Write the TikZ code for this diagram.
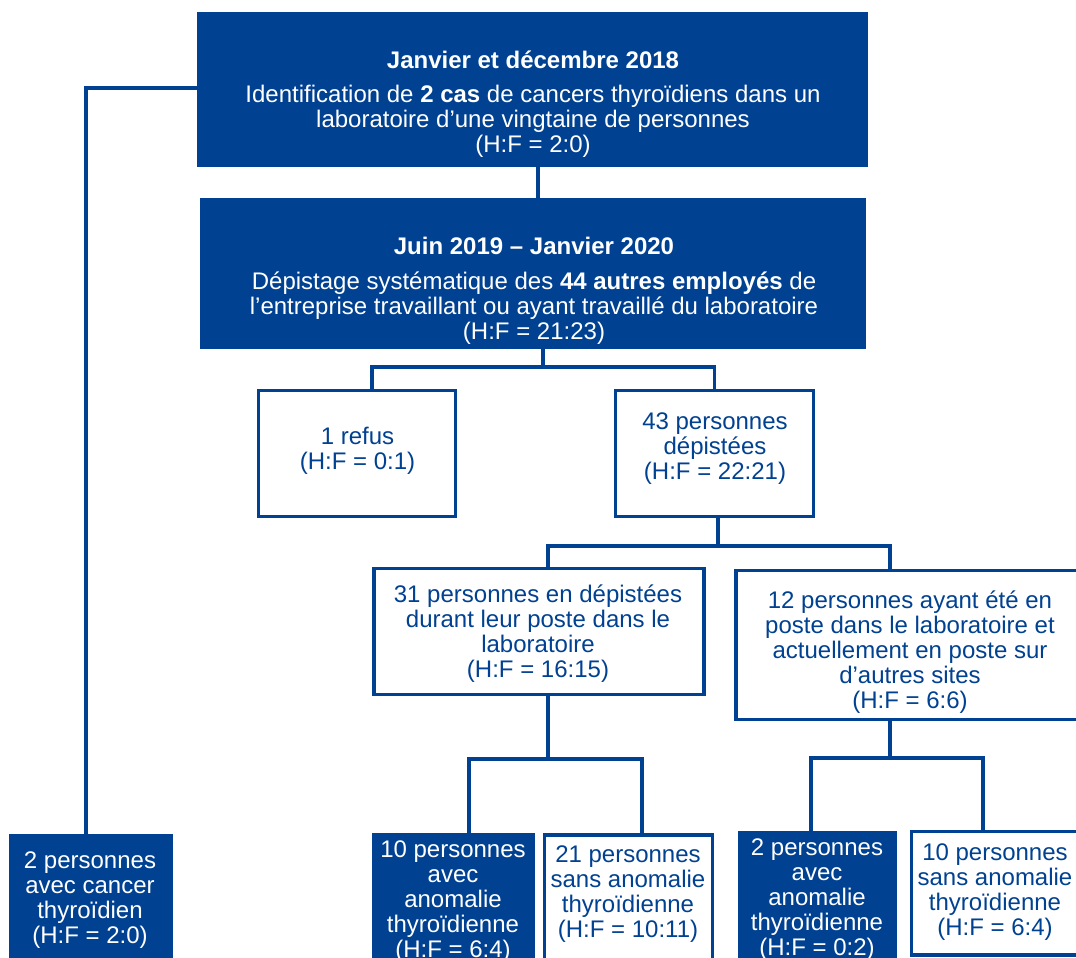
\documentclass[tikz,border=0pt]{standalone}
\usepackage{fontspec}
\setmainfont{Liberation Sans}
\definecolor{sbleu}{RGB}{0,65,145}
\begin{document}
\begin{tikzpicture}[x=1pt,y=-1pt,
  filledbox/.style={draw=sbleu, fill=sbleu, line width=1pt, inner sep=0pt, outer sep=0pt, anchor=north west},
  outlinebox/.style={draw=sbleu, fill=white, line width=3.2pt, inner sep=0pt, outer sep=0pt, anchor=north west},
  wtext/.style={text=white, align=center, inner sep=0pt, font=\fontsize{24}{25}\selectfont},
  btext/.style={text=sbleu, align=center, inner sep=0pt, font=\fontsize{24}{25}\selectfont},
  conn/.style={draw=sbleu, line width=3.2pt}]
\useasboundingbox (0,0) rectangle (1076,958);
\clip (0,0) rectangle (1076,958);

% boxes
\node[filledbox, minimum width=670, minimum height=153] (top) at (197,13) {};
\node[filledbox, minimum width=665, minimum height=150] (mid) at (200,198) {};
\node[outlinebox, minimum width=197, minimum height=126] (refus) at (258.5,390.5) {};
\node[outlinebox, minimum width=198, minimum height=126] (d43) at (615.5,390.5) {};
\node[outlinebox, minimum width=330, minimum height=126] (b31) at (374,568.5) {};
\node[outlinebox, minimum width=350, minimum height=149] (b12) at (736,570.5) {};
\node[filledbox, minimum width=162, minimum height=140] (b10) at (372,833) {};
\node[outlinebox, minimum width=168, minimum height=140] (b21) at (544.5,835) {};
\node[filledbox, minimum width=158, minimum height=140] (b2a) at (738,831) {};
\node[outlinebox, minimum width=170, minimum height=123.5] (b10s) at (911.5,831.5) {};
\node[filledbox, minimum width=163, minimum height=140] (cancer) at (9,834) {};

% texts
\node[wtext] (top-t) at (533,104.5) {{\bfseries Janvier et décembre 2018}\\[9pt]
  Identification de \textbf{2 cas} de cancers thyroïdiens dans un\\
  laboratoire d’une vingtaine de personnes\\(H:F = 2:0)};
\node[wtext] (mid-t) at (534,291) {{\bfseries Juin 2019 – Janvier 2020}\\[10pt]
  Dépistage systématique des \textbf{44 autres employés} de\\
  l’entreprise travaillant ou ayant travaillé du laboratoire\\(H:F = 21:23)};
\node[btext] (refus-t) at (357.5,451) {1 refus\\(H:F = 0:1)};
\node[btext] (d43-t) at (715,449) {43 personnes\\dépistées\\(H:F = 22:21)};
\node[btext] (b31-t) at (538,634) {31 personnes en dépistées\\durant leur poste dans le\\laboratoire\\(H:F = 16:15)};
\node[btext] (b12-t) at (910,652) {12 personnes ayant été en\\poste dans le laboratoire et\\actuellement en poste sur\\d’autres sites\\(H:F = 6:6)};
\node[wtext] (b10-t) at (453,902) {10 personnes\\avec\\anomalie\\thyroïdienne\\(H:F = 6:4)};
\node[btext] (b21-t) at (628,894.5) {21 personnes\\sans anomalie\\thyroïdienne\\(H:F = 10:11)};
\node[wtext] (b2a-t) at (817,900) {2 personnes\\avec\\anomalie\\thyroïdienne\\(H:F = 0:2)};
\node[btext] (b10s-t) at (995,892) {10 personnes\\sans anomalie\\thyroïdienne\\(H:F = 6:4)};
\node[wtext] (cancer-t) at (90,900) {2 personnes\\avec cancer\\thyroïdien\\(H:F = 2:0)};

% junction coordinates
\coordinate (jtop) at (86,88);
\coordinate (j1) at (543,367);
\coordinate (j2) at (718,546);
\coordinate (j3) at (548,759);
\coordinate (j4) at (890,758);

% connectors
\draw[conn] (538,0 |- top.south) -- (538,0 |- mid.north);
\draw[conn] (top.west |- jtop) -- (jtop) -- (jtop |- cancer.north);
\draw[conn] (j1 |- mid.south) -- (j1);
\draw[conn] (372,0 |- refus.north) |- (d43.north |- j1) -- (d43.north);
\draw[conn] (j2 |- d43.south) -- (j2);
\draw[conn] (548,0 |- b31.north) |- (890,0 |- j2) -- (890,0 |- b12.north);
\draw[conn] (j3 |- b31.south) -- (j3);
\draw[conn] (469,0 |- b10.north) |- (642,0 |- j3) -- (642,0 |- b21.north);
\draw[conn] (j4 |- b12.south) -- (j4);
\draw[conn] (811,0 |- b2a.north) |- (983,0 |- j4) -- (983,0 |- b10s.north);
\end{tikzpicture}
\end{document}
